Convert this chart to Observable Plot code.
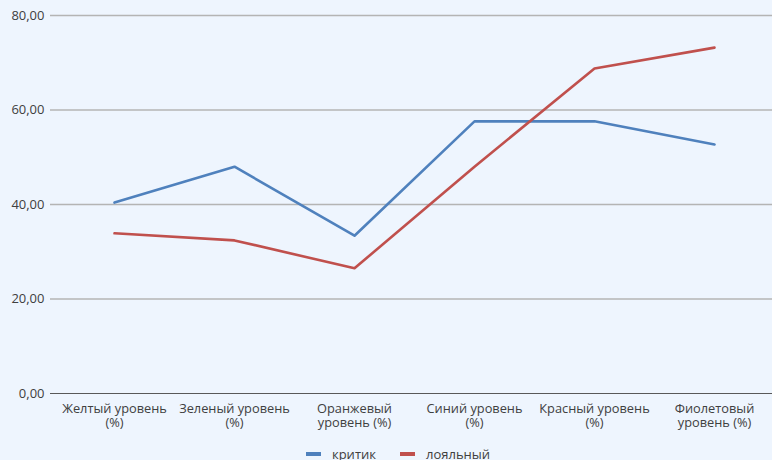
<!DOCTYPE html>
<html>
<head>
<meta charset="utf-8">
<script src="https://cdn.jsdelivr.net/npm/d3@7"></script>
<script src="https://cdn.jsdelivr.net/npm/@observablehq/plot@0.6"></script>
<style>
  html, body { margin: 0; padding: 0; background: #eef5fe; }
  #chart { width: 772px; height: 460px; overflow: hidden; position: relative; }
  .legend { position: absolute; left: 12px; top: 445px; width: 772px; display: flex; justify-content: center; gap: 24px;
            font: 13px "Open Sans", sans-serif; color: #404040; }
  .legend span { display: inline-flex; align-items: center; }
  .legend i { display: inline-block; width: 15px; height: 4px; margin-right: 11px; }
</style>
</head>
<body>
<div id="chart"></div>
<script>
// Categories (levels) and their axis labels
const categories = ["Желтый", "Зеленый", "Оранжевый", "Синий", "Красный", "Фиолетовый"];
const tickLabels = [
  "Желтый уровень\n(%)",
  "Зеленый уровень\n(%)",
  "Оранжевый\nуровень (%)",
  "Синий уровень\n(%)",
  "Красный уровень\n(%)",
  "Фиолетовый\nуровень (%)"
];
const seriesNames = ["критик", "лояльный"];
const critic = [40.4, 48.0, 33.4, 57.6, 57.6, 52.7];
const loyal = [33.9, 32.4, 26.5, 48.0, 68.8, 73.2];
const yTicks = [0, 20, 40, 60, 80];
const colors = ["#4f81bd", "#c0504d"];

const rows = [];
categories.forEach((c, i) => {
  rows.push({category: c, series: seriesNames[0], value: critic[i]});
  rows.push({category: c, series: seriesNames[1], value: loyal[i]});
});
const labelOf = new Map(categories.map((c, i) => [c, tickLabels[i]]));

const chart = Plot.plot({
  width: 772,
  height: 440,
  marginLeft: 50,
  marginRight: 0,
  marginTop: 15,
  marginBottom: 47,
  style: {background: "transparent", fontFamily: "'Open Sans', sans-serif", fontSize: "12.5px", color: "#404040"},
  x: {type: "point", domain: categories, range: [52, 776], padding: 0.5, label: null},
  y: {domain: [0, 80], label: null},
  color: {domain: seriesNames, range: colors},
  marks: [
    Plot.ruleY(yTicks.filter(d => d > 0), {stroke: "#b4b4b4", strokeWidth: 1.5}),
    Plot.ruleY([0], {stroke: "#595959", strokeWidth: 1.2}),
    Plot.axisY({ticks: yTicks, tickSize: 0, tickPadding: 6, tickFormat: d => d.toFixed(2).replace(".", ","), fontSize: 13}),
    Plot.axisX({tickSize: 0, tickPadding: 9, tickFormat: d => labelOf.get(d), lineHeight: 1.12, fontSize: 12.8}),
    Plot.line(rows, {x: "category", y: "value", z: "series", stroke: "series", strokeWidth: 2.6})
  ]
});
document.getElementById("chart").appendChild(chart);

const legend = document.createElement("div");
legend.className = "legend";
seriesNames.forEach((s, i) => {
  const item = document.createElement("span");
  item.innerHTML = `<i style="background:${colors[i]}"></i>${s}`;
  legend.appendChild(item);
});
document.getElementById("chart").appendChild(legend);
</script>
</body>
</html>
